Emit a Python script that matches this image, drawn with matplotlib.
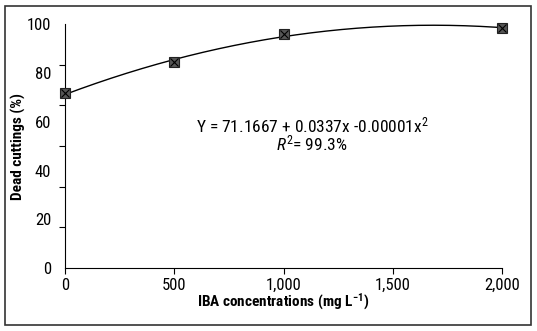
import numpy as np
import matplotlib
matplotlib.use("Agg")
from matplotlib import pyplot as plt
from matplotlib import font_manager
from matplotlib.patches import Rectangle

# measured means
iba = [0, 500, 1000, 2000]
dead = [71.7, 84.4, 95.9, 98.4]

# fitted quadratic shown on the chart
coef = [-0.00001, 0.0337, 71.1667]

xticks = [0, 500, 1000, 1500, 2000]
xlabels = ['0', '500', '1,000', '1,500', '2,000']
ylabels = [0, 20, 40, 60, 80, 100]

installed = {f.name for f in font_manager.fontManager.ttflist}
fam = 'Liberation Sans'
for name in ['Liberation Sans Narrow', 'Roboto Condensed', 'Open Sans Condensed', 'DejaVu Sans Condensed']:
    if name in installed:
        fam = name
        break
plt.rcParams['font.family'] = [fam, 'DejaVu Sans']
plt.rcParams['mathtext.fontset'] = 'custom'
plt.rcParams['mathtext.rm'] = fam
plt.rcParams['mathtext.it'] = fam + ':italic'
plt.rcParams['mathtext.bf'] = fam + ':bold'

fig = plt.figure(figsize=(5.37, 3.31), dpi=100)
ax = fig.add_axes([0.121, 0.19, 0.814, 0.737])

xs = np.linspace(0, 2000, 200)
ax.plot(xs, np.polyval(coef, xs), color='black', lw=1)
ax.plot(iba, dead, ls='none', marker='s', ms=7.5, mfc='#555555', mec='#222222', mew=0.8, clip_on=False, zorder=5)
ax.plot(iba, dead, ls='none', marker='x', ms=5.5, color='black', mew=0.8, clip_on=False, zorder=6)

ax.set_xlim(0, 2000)
ax.set_ylim(0, 100)
ax.set_xticks(xticks)
ax.set_xticklabels(xlabels)
ax.set_yticks(ylabels)
ax.set_yticks(np.linspace(0, 100, 7), minor=True)
ax.tick_params(axis='x', direction='out', length=4, labelsize=12, width=0.8, pad=3)
ax.tick_params(axis='y', which='major', length=0, labelsize=12, pad=10)
ax.tick_params(axis='y', which='minor', direction='out', length=4, width=0.8)
ax.spines['top'].set_visible(False)
ax.spines['right'].set_visible(False)

ax.set_xlabel('IBA concentrations (mg L$^{\\mathbf{-1}}$)', fontsize=11, fontweight='bold', labelpad=-1)
ax.set_ylabel('Dead cuttings (%)', fontsize=11, fontweight='bold')
ax.yaxis.set_label_coords(-0.09, 0.5)

ax.text(1130, 58.6, 'Y = 71.1667 + 0.0337x -0.00001x$^{2}$', fontsize=12.5, ha='center', va='center')
ax.text(1130, 51.2, '$\\mathit{R}^{2}$= 99.3%', fontsize=12.5, ha='center', va='center')

fig.patches.append(Rectangle((5/537, 6/331), 526/537, 319/331, transform=fig.transFigure,
                             fill=False, ec='#333333', lw=1.2))

fig.savefig('out.png', dpi=100)
